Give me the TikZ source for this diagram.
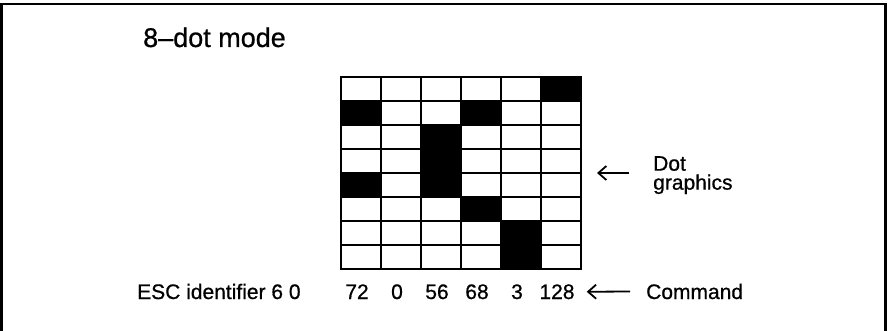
\documentclass[tikz,border=0pt]{standalone}
\usepackage{fontspec}
\setmainfont{Liberation Sans}[FakeBold=0.7]
\usetikzlibrary{arrows.meta,positioning,calc}
\tikzset{
  cell/.style={draw=black,line width=2pt,minimum width=40pt,minimum height=24pt,
               inner sep=0pt,outer sep=0pt,fill=white},
  dotcell/.style={cell,fill=black},
  lbl/.style={font=\fontsize{21}{19}\selectfont,inner sep=0pt},
  pointer/.style={-{Straight Barb[length=8pt,width=14pt]},line width=1.8pt},
}
\begin{document}
\begin{tikzpicture}[x=1pt,y=-1pt]
  \useasboundingbox (0,0) rectangle (890,331);
  % frame, open at the bottom
  \begin{scope}
    \clip (0,0) rectangle (890,331);
    \draw[line width=2.5pt] (1.5,340) -- (1.5,4) -- (885.5,4) -- (885.5,340);
  \end{scope}
  % title
  \node[anchor=base west,font=\fontsize{27}{30}\selectfont,inner sep=0pt] (title) at (143,47) {8–dot mode};
  % dot columns, bit 128 on top
  \foreach \val [count=\c] in {72,0,56,68,3,128}{
    \foreach \r in {0,...,7}{
      \pgfmathtruncatemacro\bit{mod(floor(\val/2^(7-\r)),2)}
      \ifnum\bit=1 \def\cs{dotcell}\else\def\cs{cell}\fi
      \node[\cs] (c\c-\r) at ({321+40*\c},{89+24*\r}) {};
    }
    \node[lbl,anchor=base] (v\c) at ({317+40*\c},299) {\val};
  }
  % labels
  \node[lbl,anchor=base west] (esc) at (137,299) {ESC identifier 6 0};
  \node[lbl,anchor=base west] (cmd) at (646,299) {Command};
  \node[lbl,anchor=north west,align=left] (dotg) at (653,156) {Dot\\graphics};
  \coordinate (dotArrow) at ($(c6-3.south east)+(16,0)$);
  \draw[pointer] ($(dotg.west |- dotArrow)+(-24,0)$) -- (dotArrow);
  \draw[pointer] ([xshift=-16pt]cmd.west) -- ([xshift=12pt]v6.east);
\end{tikzpicture}
\end{document}
